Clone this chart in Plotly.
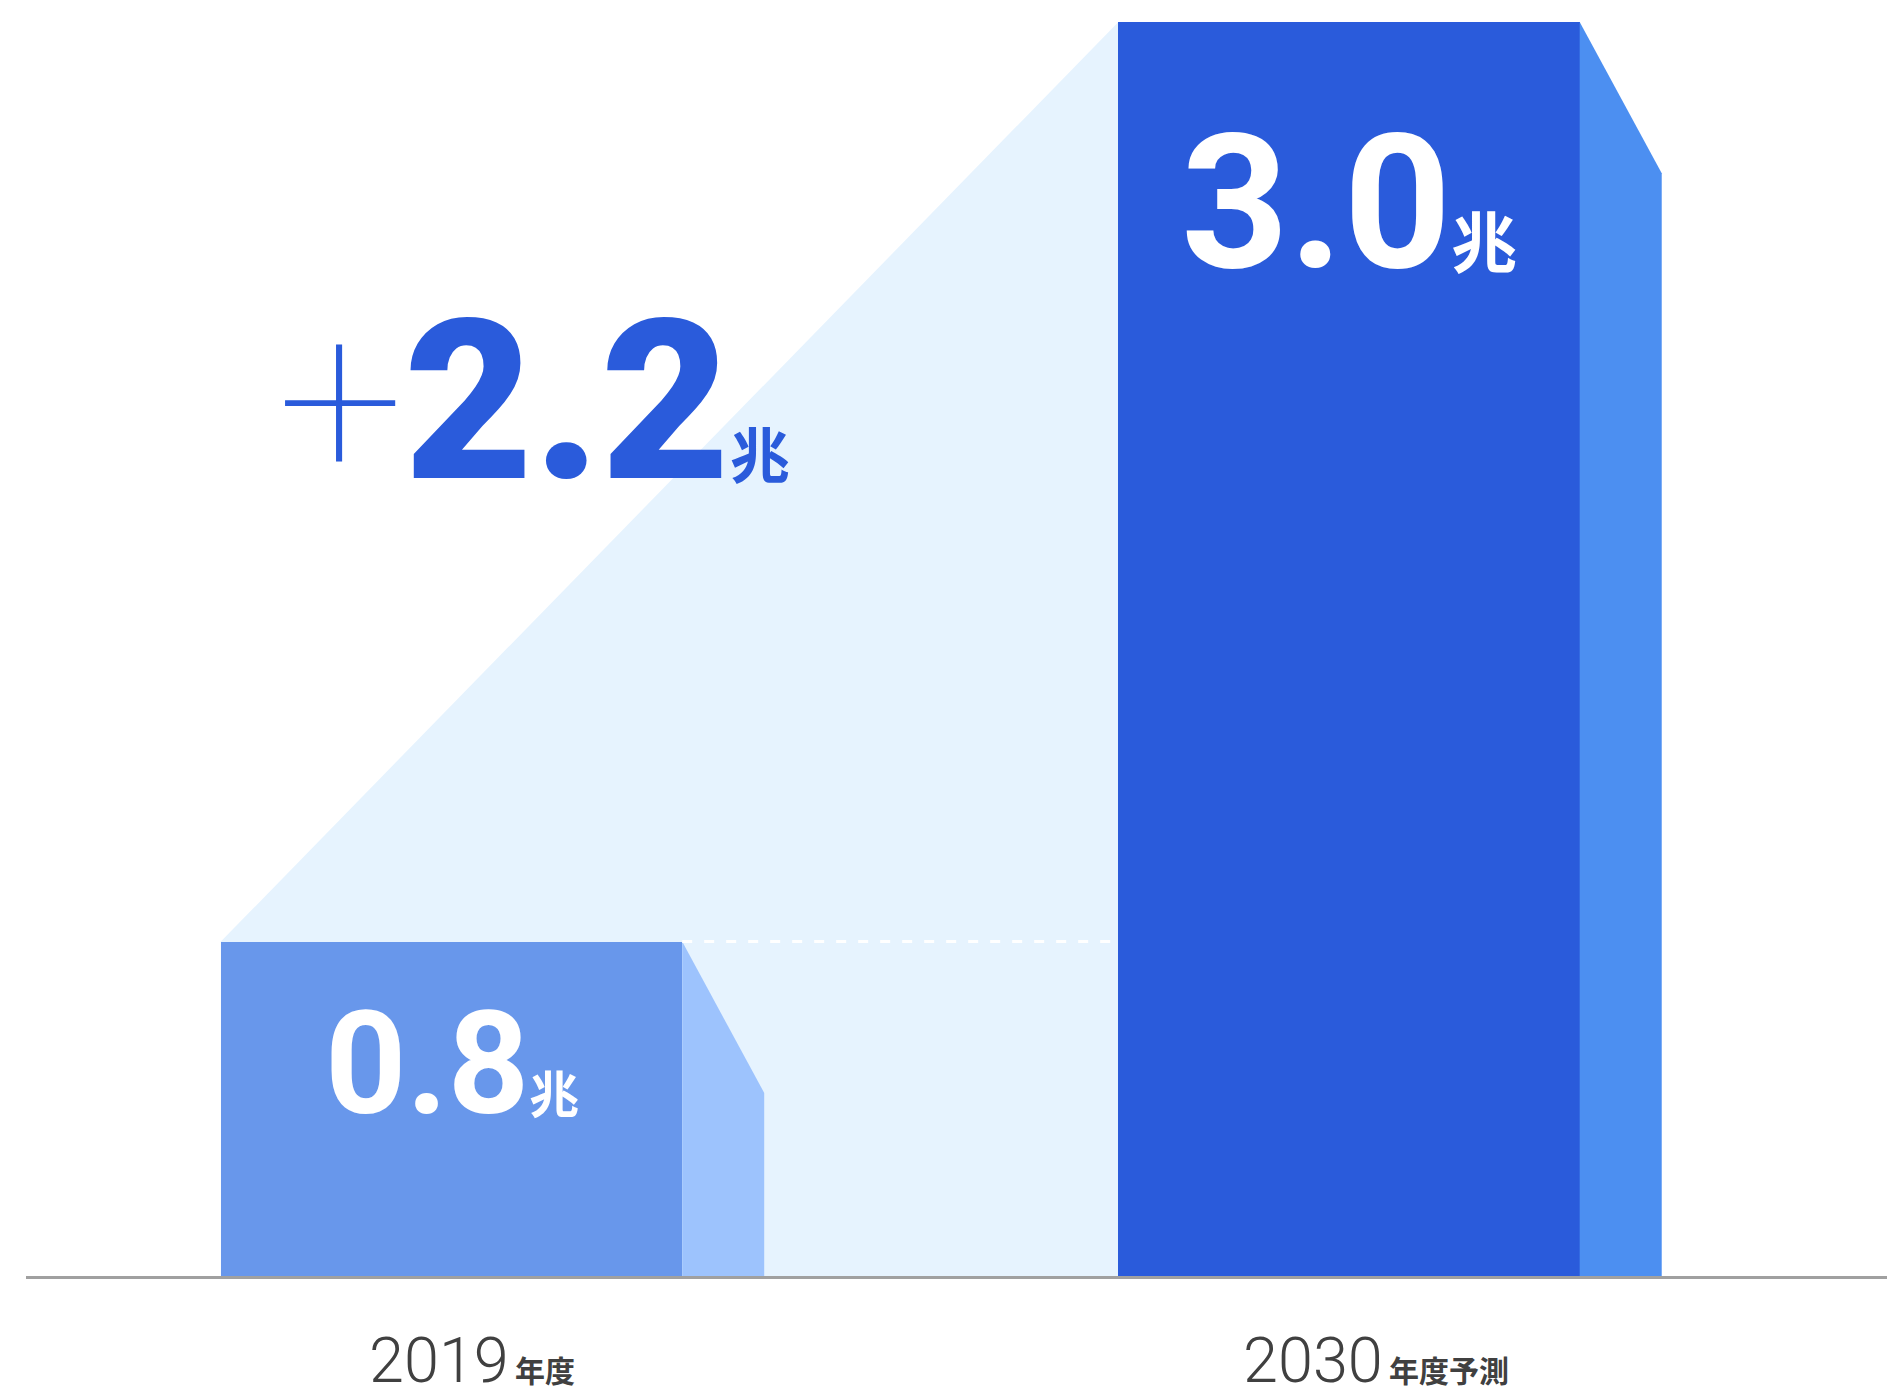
import plotly.graph_objects as go

# Market size (trillion yen) for the two fiscal years
years = ["2019", "2030"]
year_suffix = ["年度", "年度予測"]
values = [0.8, 3.0]
unit = "兆"

# Bar geometry (x in category units, y in value units)
pos = [0, 1]
bar_w = 0.514
side_w = 0.0914
side_drop = 0.362

front_colors = ["#6897EB", "#2A5BDB"]
side_colors = ["#9DC3FD", "#4C8FF1"]
backdrop_color = "#E6F3FE"
accent = "#2A5BDB"
label_color = "#404040"
font_family = "Roboto, 'Noto Sans CJK JP', sans-serif"

fig = go.Figure()

# Light growth wedge behind the bars
left_edges = [p - bar_w / 2 for p in pos]
fig.add_shape(
    type="path",
    xref="x", yref="y",
    path=(f"M {left_edges[0]},{values[0]} L {left_edges[1]},{values[1]} "
          f"L {left_edges[1]},0 L {left_edges[0]},0 Z"),
    fillcolor=backdrop_color, line=dict(width=0), layer="below",
)

# Front faces
fig.add_trace(go.Bar(
    x=pos, y=values, width=bar_w,
    marker=dict(color=front_colors, line=dict(width=0)),
    hoverinfo="skip", showlegend=False,
))

# Side faces
for p, v, c in zip(pos, values, side_colors):
    x0 = p + bar_w / 2
    x1 = x0 + side_w
    fig.add_trace(go.Scatter(
        x=[x0, x1, x1, x0, x0], y=[v, v - side_drop, 0, 0, v],
        mode="lines", fill="toself", fillcolor=c,
        line=dict(width=0, color=c), hoverinfo="skip", showlegend=False,
    ))

# Dashed reference at the 2019 level
fig.add_trace(go.Scatter(
    x=[pos[0] + bar_w / 2, pos[1] - bar_w / 2], y=[values[0], values[0]],
    mode="lines", line=dict(color="white", width=3, dash="10px,12px"),
    hoverinfo="skip", showlegend=False,
))

annotations = []

# Value labels inside the bars
label_sizes = [(142, 50, -37), (188, 66, -69)]
for p, v, (big, small, shift) in zip(pos, values, label_sizes):
    annotations.append(dict(
        x=p, y=v, xref="x", yref="y", xanchor="center", yanchor="top",
        yshift=shift, showarrow=False,
        text=(f"<span style='font-weight:700'>{v:.1f}</span>"
              f"<span style='font-size:{small}px;font-weight:700'>{unit}</span>"),
        font=dict(family=font_family, size=big, color="white"),
    ))

# Increase label
increase = values[1] - values[0]
annotations.append(dict(
    x=-0.197, y=2.416, xref="x", yref="y", xanchor="left", yanchor="top",
    showarrow=False,
    text=(f"<span style='font-weight:100'>+</span>"
          f"<span style='font-size:223px;font-weight:900'>{increase:.1f}</span>"
          f"<span style='font-size:60px;font-weight:700'>{unit}</span>"),
    font=dict(family=font_family, size=226, color=accent),
))

# Category labels under the axis
for p, yr, suf, xs in zip(pos, years, year_suffix, [20, 27]):
    annotations.append(dict(
        x=p, y=0, xref="x", yref="y", xanchor="center", yanchor="top",
        xshift=xs, yshift=-46, showarrow=False,
        text=(f"<span style='font-weight:300'>{yr}</span>"
              f"<span style='font-size:30px;font-weight:700'>&#8201;{suf}</span>"),
        font=dict(family=font_family, size=63, color=label_color),
    ))

fig.update_layout(
    width=1887, height=1387,
    margin=dict(l=26, r=0, t=22, b=111, pad=0),
    paper_bgcolor="white", plot_bgcolor="white",
    showlegend=False,
    bargap=0,
    xaxis=dict(range=[-0.4741, 1.5994], showgrid=False, zeroline=False,
               showticklabels=False, ticks="", showline=True,
               linecolor="#A0A0A0", linewidth=3, fixedrange=True),
    yaxis=dict(range=[0, 3.0], showgrid=False, zeroline=False,
               showticklabels=False, ticks="", showline=False, fixedrange=True),
    annotations=annotations,
)

fig.write_html("out.html")
